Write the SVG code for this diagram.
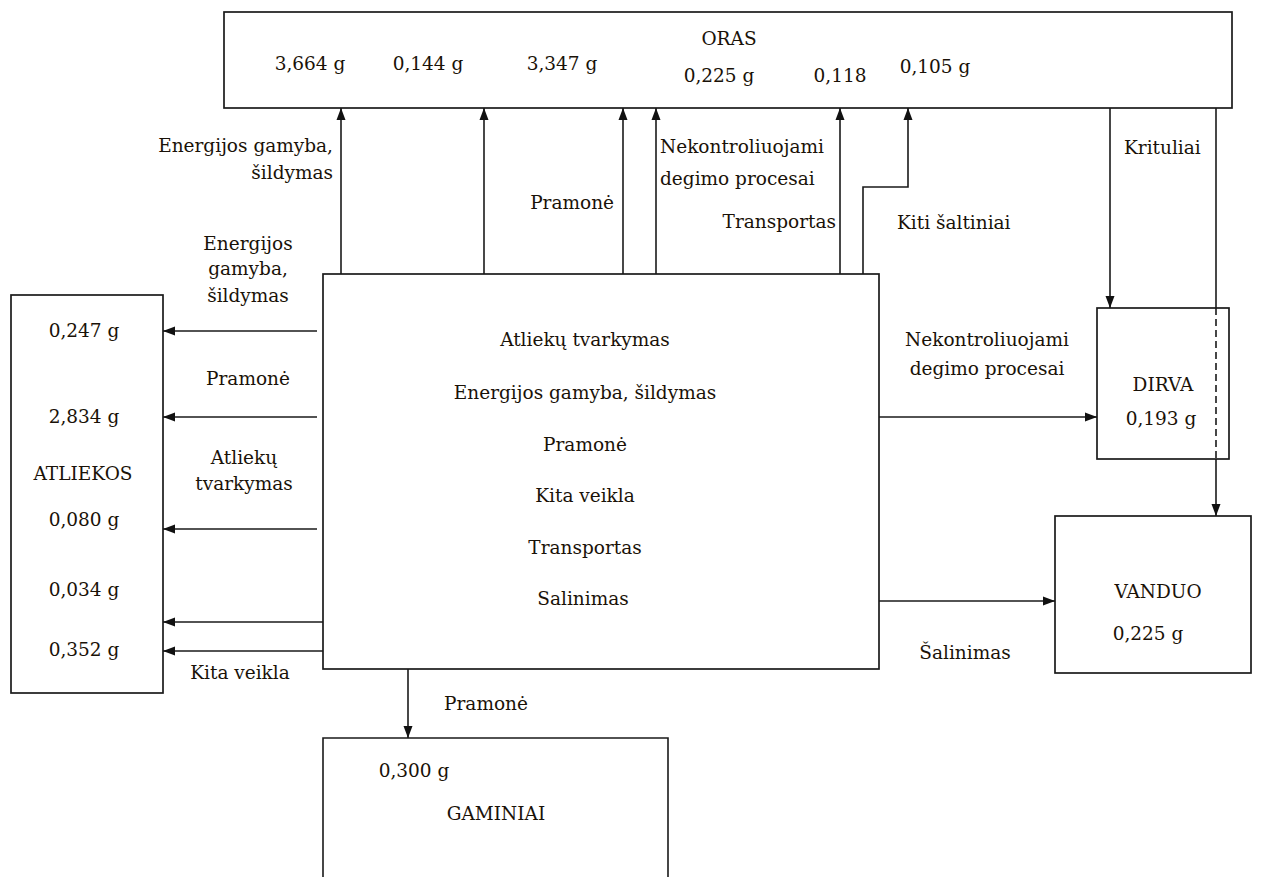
<svg xmlns="http://www.w3.org/2000/svg" width="1270" height="877" viewBox="0 0 1270 877">
<style>
text{font-family:"DejaVu Serif","Liberation Serif",serif;font-size:18.5px;fill:#1a1208}
.m{text-anchor:middle}.e{text-anchor:end}
.box{fill:#fff;stroke:#1a1a1a;stroke-width:1.7}
.ln{fill:none;stroke:#1a1a1a;stroke-width:1.6}
.ar{fill:none;stroke:#1a1a1a;stroke-width:1.6;marker-end:url(#ah)}
</style>
<defs>
<marker id="ah" markerUnits="userSpaceOnUse" markerWidth="12" markerHeight="10" refX="12" refY="5" orient="auto" viewBox="0 0 12 10">
<path d="M0,0.5 L12,5 L0,9.5 z" fill="#111"/>
</marker>
</defs>
<rect width="1270" height="877" fill="#fff"/>
<g id="oras">
<rect class="box" x="224" y="12" width="1008" height="96"/>
<text class="m" x="729" y="45">ORAS</text>
<text class="m" x="310" y="70">3,664 g</text>
<text class="m" x="428" y="70">0,144 g</text>
<text class="m" x="562" y="70">3,347 g</text>
<text class="m" x="719" y="82">0,225 g</text>
<text class="m" x="840" y="82">0,118</text>
<text class="m" x="935" y="73">0,105 g</text>
</g>
<g id="saltiniai">
<rect class="box" x="323" y="274" width="556" height="395"/>
<text class="m" x="585" y="346">Atliekų tvarkymas</text>
<text class="m" x="585" y="399">Energijos gamyba, šildymas</text>
<text class="m" x="585" y="451">Pramonė</text>
<text class="m" x="585" y="502">Kita veikla</text>
<text class="m" x="585" y="554">Transportas</text>
<text class="m" x="583" y="605">Salinimas</text>
</g>
<g id="atliekos">
<rect class="box" x="11" y="295" width="152" height="398"/>
<text class="m" x="84" y="337">0,247 g</text>
<text class="m" x="84" y="423">2,834 g</text>
<text class="m" x="83" y="480">ATLIEKOS</text>
<text class="m" x="84" y="526">0,080 g</text>
<text class="m" x="84" y="596">0,034 g</text>
<text class="m" x="84" y="656">0,352 g</text>
</g>
<g id="dirva">
<rect class="box" x="1097" y="308" width="132" height="151"/>
<text class="m" x="1163" y="391">DIRVA</text>
<text class="m" x="1161" y="425">0,193 g</text>
</g>
<g id="vanduo">
<rect class="box" x="1055" y="516" width="196" height="157"/>
<text class="m" x="1158" y="598">VANDUO</text>
<text class="m" x="1148" y="640">0,225 g</text>
</g>
<g id="gaminiai">
<path class="ln" d="M323,880 L323,738 L668,738 L668,880"/>
<text class="m" x="414" y="777">0,300 g</text>
<text class="m" x="496" y="820">GAMINIAI</text>
</g>
<g id="connectors">
<path class="ar" d="M341,274 L341,108"/>
<path class="ar" d="M484,274 L484,108"/>
<path class="ar" d="M623,274 L623,108"/>
<path class="ar" d="M656,274 L656,108"/>
<path class="ar" d="M840,274 L840,108"/>
<path class="ar" d="M863,274 L863,187 L908,187 L908,108"/>
<path class="ar" d="M1110,108 L1110,308"/>
<path class="ln" d="M1216,108 L1216,308"/>
<path class="ln" d="M1216,308 L1216,459" stroke-dasharray="7,4"/>
<path class="ar" d="M1216,459 L1216,516"/>
<path class="ar" d="M879,417 L1097,417"/>
<path class="ar" d="M879,601 L1055,601"/>
<path class="ar" d="M317,331 L163,331"/>
<path class="ar" d="M317,417 L163,417"/>
<path class="ar" d="M317,529 L163,529"/>
<path class="ar" d="M323,622 L163,622"/>
<path class="ar" d="M323,651 L163,651"/>
<path class="ar" d="M408,669 L408,738"/>
<text class="e" x="333" y="152">Energijos gamyba,</text>
<text class="e" x="333" y="179">šildymas</text>
<text class="m" x="248" y="250">Energijos</text>
<text class="m" x="248" y="275">gamyba,</text>
<text class="m" x="248" y="302">šildymas</text>
<text class="m" x="248" y="385">Pramonė</text>
<text class="m" x="244" y="464">Atliekų</text>
<text class="m" x="244" y="490">tvarkymas</text>
<text class="m" x="240" y="679">Kita veikla</text>
<text class="e" x="614" y="209">Pramonė</text>
<text x="660" y="153">Nekontroliuojami</text>
<text x="660" y="185">degimo procesai</text>
<text class="e" x="836" y="228">Transportas</text>
<text x="897" y="229">Kiti šaltiniai</text>
<text x="1124" y="154">Krituliai</text>
<text class="m" x="987" y="346">Nekontroliuojami</text>
<text class="m" x="987" y="375">degimo procesai</text>
<text class="m" x="965" y="659">Šalinimas</text>
<text class="m" x="486" y="710">Pramonė</text>
</g>
</svg>
